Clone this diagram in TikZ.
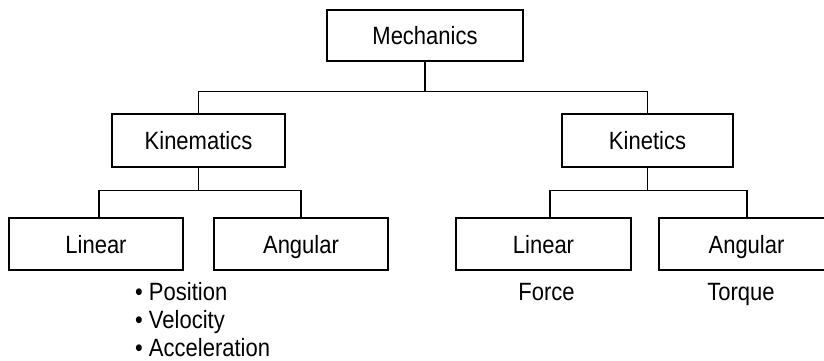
\documentclass[tikz,border=0pt]{standalone}
\usepackage{fontspec}
\setmainfont{Liberation Sans}[FakeStretch=0.88]
\begin{document}
\begin{tikzpicture}[x=1pt,y=-1pt,
  box/.style={draw, line width=1.2pt, minimum height=52pt, inner sep=0pt,
              text height=20pt, text depth=2pt,
              font=\fontsize{25}{29}\selectfont},
  lbl/.style={inner sep=0pt, font=\fontsize{25}{29}\selectfont},
  conn/.style={line width=1.2pt}]
\useasboundingbox (0,0) rectangle (824,361);
% boxes
\node[box, minimum width=196pt, minimum height=51pt] (mech)  at (425,35.5) {Mechanics};
\node[box, minimum width=173pt, minimum height=53pt] (kinem) at (198.5,140.5) {Kinematics};
\node[box, minimum width=171pt, minimum height=53pt] (kinet) at (647.5,140.5) {Kinetics};
\node[box, minimum width=174pt] (linL) at (96,244) {Linear};
\node[box, minimum width=174pt] (angL) at (301,244) {Angular};
\node[box, minimum width=175pt] (linR) at (543.5,244) {Linear};
\node[box, minimum width=175pt] (angR) at (746.5,244) {Angular};
% connectors
\draw[conn] (mech.south) -- ++(0,30) -| (kinem.north);
\draw[conn] (mech.south) ++(0,30) -| (kinet.north);
\draw[conn] (kinem.south) -- ++(0,22.5) -| ([xshift=3pt]linL.north);
\draw[conn] (kinem.south) ++(0,22.5) -| (angL.north);
\draw[conn] (kinet.south) -- ++(0,22.5) -| ([xshift=6.5pt]linR.north);
\draw[conn] (kinet.south) ++(0,22.5) -| ([xshift=0.5pt]angR.north);
% labels below
\node[lbl, anchor=base west] (pos) at (135,300) {• Position};
\node[lbl, anchor=base west] (vel) at (135,328) {• Velocity};
\node[lbl, anchor=base west] (acc) at (135,356) {• Acceleration};
\node[lbl, anchor=base] (force) at (546.5,300) {Force};
\node[lbl, anchor=base] (torque) at (741,300) {Torque};
\end{tikzpicture}
\end{document}
